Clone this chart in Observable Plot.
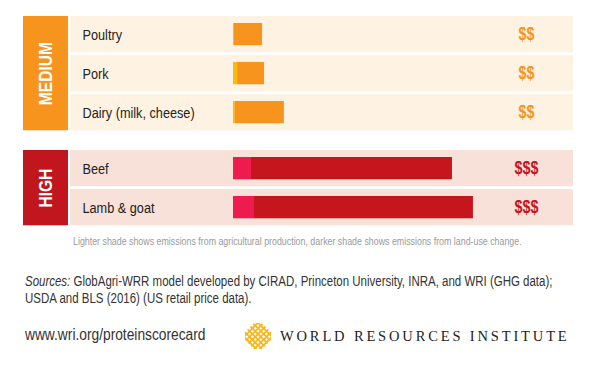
<!DOCTYPE html>
<html>
<head>
<meta charset="utf-8">
<script src="https://cdn.jsdelivr.net/npm/d3@7"></script>
<script src="https://cdn.jsdelivr.net/npm/@observablehq/plot@0.6"></script>
<style>
  html, body { margin: 0; padding: 0; background: #fff; }
  #wrap { position: relative; width: 600px; height: 367px; overflow: hidden; }
  #chart { position: absolute; left: 0; top: 0; }
  .narrow { font-family: "Liberation Sans", Arial, sans-serif; white-space: nowrap; position: absolute; color: #333; }
  .narrow > span { display: inline-block; transform: scaleX(0.82); transform-origin: 0 0; }
  #src1 { left: 25px; top: 273px; font-size: 14px; line-height: 16px; }
  #src2 { left: 25px; top: 289.5px; font-size: 14px; line-height: 16px; }
  #url { left: 25px; top: 326px; font-size: 16px; line-height: 18px; }
  #url > span { transform: scaleX(0.86); }
  #logo { position: absolute; left: 245px; top: 323px; }
  #wri { position: absolute; left: 280px; top: 327px; font-family: "Liberation Serif", "DejaVu Serif", serif; font-size: 14.5px; line-height: 18px; letter-spacing: 2.85px; color: #222; white-space: nowrap; }
</style>
</head>
<body>
<div id="wrap">
  <div id="chart"></div>
  <div id="src1" class="narrow"><span><i>Sources:</i> GlobAgri-WRR model developed by CIRAD, Princeton University, INRA, and WRI (GHG data);</span></div>
  <div id="src2" class="narrow"><span>USDA and BLS (2016) (US retail price data).</span></div>
  <div id="url" class="narrow"><span>www.wri.org/proteinscorecard</span></div>
  <div id="logo"></div>
  <div id="wri">WORLD RESOURCES INSTITUTE</div>
</div>
<script>
// ---- data ----
const groups = ["MEDIUM", "HIGH"];
const foods = ["Poultry", "Pork", "Dairy (milk, cheese)", "Beef", "Lamb & goat"];
const foodGroup = ["MEDIUM", "MEDIUM", "MEDIUM", "HIGH", "HIGH"];
// emissions index (lamb & goat total = 100)
const agProduction = [0.4, 1.7, 0.8, 7.5, 8.75];
const landUseChange = [11.7, 11.25, 20.4, 83.75, 91.25];
const priceLabels = ["$$", "$$", "$$", "$$$", "$$$"];
const footnote = "Lighter shade shows emissions from agricultural production, darker shade shows emissions from land-use change.";

// ---- styles ----
const palette = {
  MEDIUM: {box: "#F7941D", bg: "#FEF3E2", light: "#FDB913", dark: "#F7941D", price: "#F7941D"},
  HIGH:   {box: "#C1161E", bg: "#F7E1D8", light: "#EE1C4E", dark: "#C4161C", price: "#C4161C"}
};
const GROUP_GAP = 0.436;
const ROW = 0.93;
const FONT = "Liberation Sans, Arial, sans-serif";
const SQUEEZE = 0.82;

const rows = foods.map((food, i) => ({
  food, group: foodGroup[i], ag: agProduction[i], luc: landUseChange[i], price: priceLabels[i],
  slot: i + groups.indexOf(foodGroup[i]) * GROUP_GAP
}));
const segs = rows.flatMap(r => [
  {slot: r.slot, x1: 0, x2: r.ag, fill: palette[r.group].light},
  {slot: r.slot, x1: r.ag, x2: r.ag + r.luc, fill: palette[r.group].dark}
]);
const boxes = groups.map(g => {
  const rs = rows.filter(r => r.group === g);
  return {group: g, y1: d3.min(rs, r => r.slot), y2: d3.max(rs, r => r.slot) + ROW, fill: palette[g].box};
});

const chart = Plot.plot({
  width: 600, height: 250,
  marginLeft: 233, marginRight: 27, marginTop: 16, marginBottom: 23,
  x: {domain: [0, 141.7], axis: null},
  y: {domain: [0, 5.41], reverse: true, axis: null},
  color: {type: "identity"},
  style: {background: "transparent"},
  marks: [
    // row backgrounds
    Plot.rect(rows, {y1: "slot", y2: d => d.slot + ROW, fill: d => palette[d.group].bg, insetLeft: -163}),
    // group boxes
    Plot.rect(boxes, {y1: "y1", y2: "y2", fill: "fill", insetLeft: -210, insetRight: 505}),
    Plot.text(boxes, {y: d => (d.y1 + d.y2) / 2, text: "group", frameAnchor: "left", dx: -188, rotate: -90,
      fill: "white", fontSize: 19, fontWeight: "bold", fontFamily: FONT, textAnchor: "middle", lineAnchor: "middle"}),
    // bars
    Plot.rect(segs, {x1: "x1", x2: "x2", y1: "slot", y2: d => d.slot + ROW, fill: "fill", insetTop: 7, insetBottom: 7}),
    // food labels
    Plot.text(rows, {y: d => d.slot + ROW / 2, text: "food", frameAnchor: "left", dx: -151, textAnchor: "start",
      lineAnchor: "middle", fill: "#222", fontSize: 15.5, fontFamily: FONT}),
    // price labels
    Plot.text(rows, {y: d => d.slot + ROW / 2, text: "price", frameAnchor: "right", dx: -47, textAnchor: "middle",
      lineAnchor: "middle", fill: d => palette[d.group].price, fontSize: 17.5, fontWeight: "bold", fontFamily: FONT}),
    // footnote
    Plot.text([footnote], {text: d => d, frameAnchor: "bottom-left", dx: -160.5, dy: 14, textAnchor: "start",
      lineAnchor: "middle", fill: "#9a9a9a", fontSize: 10.8, fontFamily: FONT})
  ]
});
document.getElementById("chart").appendChild(chart);

// condensed lettering: squeeze every text horizontally about its anchor
chart.querySelectorAll("text").forEach(t => {
  const x = +t.getAttribute("x") || 0;
  const tr = t.getAttribute("transform") || "";
  t.setAttribute("transform", `${tr} translate(${x},0) scale(${SQUEEZE},1) translate(${-x},0)`);
});

// WRI logo mark (decorative woven lattice)
const logo = d3.select("#logo").append("svg").attr("width", 26).attr("height", 26).attr("viewBox", "-13 -13 26 26");
logo.append("clipPath").attr("id", "lclip").append("polygon")
  .attr("points", "-4,-13 4,-13 13,-4 13,4 4,13 -4,13 -13,4 -13,-4");
const g = logo.append("g").attr("clip-path", "url(#lclip)").attr("stroke", "#FBB31B").attr("stroke-width", 1.7);
for (let k = -30; k <= 30; k += 5.6) {
  g.append("line").attr("x1", -16).attr("y1", -16 + k).attr("x2", 16).attr("y2", 16 + k);
  g.append("line").attr("x1", -16).attr("y1", 16 + k).attr("x2", 16).attr("y2", -16 + k);
}
</script>
</body>
</html>
